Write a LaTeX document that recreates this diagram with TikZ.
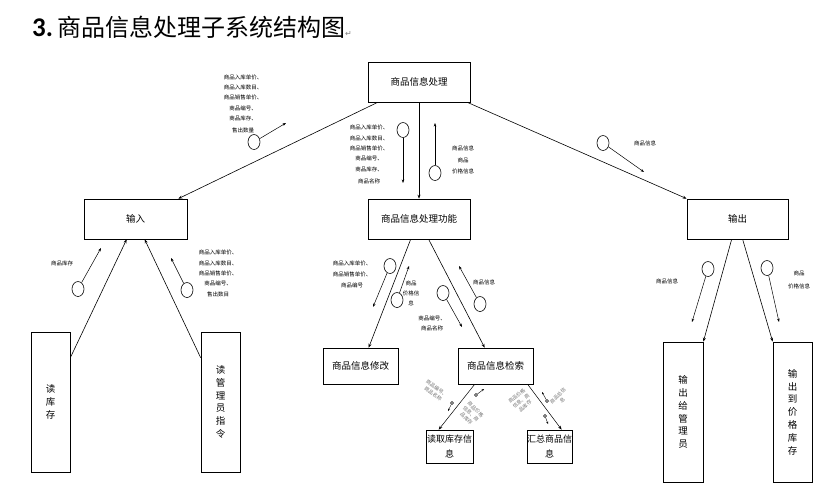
\documentclass[tikz,border=0pt]{standalone}
\usepackage{fontspec}
\setmainfont{Carlito}
\newfontfamily\cjk{Noto Sans CJK SC}
\newfontfamily\symf{DejaVu Sans}
\usetikzlibrary{arrows.meta,shapes.geometric,calc}
\begin{document}
\begin{tikzpicture}[x=1pt,y=-1pt,
  box/.style={draw, line width=0.7pt, inner sep=0pt, align=center, font=\cjk\fontsize{9.5}{12}\selectfont},
  vbox/.style={box, font=\cjk\fontsize{9.5}{12.8}\selectfont},
  sbox/.style={box, font=\cjk\fontsize{9}{15}\selectfont},
  lbl/.style={inner sep=0pt, align=center, font=\cjk\fontsize{5.5}{10.3}\selectfont},
  rlbl/.style={inner sep=0pt, align=center, text=black!55, font=\cjk\fontsize{5}{6.5}\selectfont},
  link/.style={line width=0.6pt, -{Stealth[length=4pt,width=3pt]}},
  flow/.style={line width=0.5pt, -{Stealth[length=3.5pt,width=2.6pt]}},
  bubble/.style={draw, ellipse, minimum width=12pt, minimum height=15pt, inner sep=0pt, line width=0.6pt},
  dot/.style={draw, circle, minimum size=3pt, inner sep=0pt, line width=0.5pt},
  tinyflow/.style={line width=0.4pt, -{Stealth[length=2.5pt,width=2pt]}}
]
\useasboundingbox (0,0) rectangle (832,498);

% title
\node[anchor=base west, inner sep=0pt] (title) at (32,36)
  {{\fontsize{27}{27}\selectfont\bfseries 3.}\hspace{4pt}{\cjk\fontsize{24}{24}\selectfont 商品信息处理子系统结构图}{\symf\fontsize{8}{8}\selectfont\textcolor{gray}{↵}}};

% boxes
\node[box, minimum width=102pt, minimum height=40pt] (top) at (419,82) {商品信息处理};
\node[box, minimum width=103pt, minimum height=40pt] (in) at (135.5,219) {输入};
\node[box, minimum width=102pt, minimum height=40pt] (func) at (419,219) {商品信息处理功能};
\node[box, minimum width=101pt, minimum height=40pt] (out) at (737.5,219) {输出};
\node[vbox, minimum width=39pt, minimum height=140pt] (rk) at (50.5,402) {读\\库\\存};
\node[vbox, minimum width=39pt, minimum height=140pt] (rg) at (220.5,402) {读\\管\\理\\员\\指\\令};
\node[box, minimum width=75pt, minimum height=36pt] (mod) at (360.5,366) {商品信息修改};
\node[box, minimum width=75pt, minimum height=36pt] (srch) at (495.5,366) {商品信息检索};
\node[sbox, minimum width=47pt, minimum height=33pt] (rd) at (449.5,446.5) {读取库存信\\息};
\node[sbox, minimum width=45pt, minimum height=33pt] (sum) at (549.5,446.5) {汇总商品信\\息};
\node[vbox, minimum width=40pt, minimum height=140pt] (og) at (683,412) {输\\出\\给\\管\\理\\员};
\node[vbox, minimum width=39pt, minimum height=140pt] (op) at (792.5,412) {输\\出\\到\\价\\格\\库\\存};

% connectors
\draw[link] ($(top.south west)+(10,0)$) -- ($(in.north east)+(-9,0)$);
\draw[link] (top.south) -- (func.north);
\draw[link] ($(top.south east)+(-3,0)$) -- (out.north west);
\draw[link] ($(rk.north east)+(0,26)$) -- ($(in.south west)+(43,0)$);
\draw[link] ($(rg.north west)+(0,26)$) -- ($(in.south west)+(61,0)$);
\draw[link] ($(func.south west)+(43,0)$) -- ($(mod.north west)+(46,0)$);
\draw[link] ($(func.south west)+(61,0)$) -- ($(srch.north west)+(27,0)$);
\draw[link] ($(out.south west)+(45,0)$) -- (og.north east);
\draw[link] ($(out.south west)+(56,0)$) -- (op.north west);
\draw[link, line width=0.5pt] ($(srch.south west)+(17,0)$) -- ($(rd.north west)+(13,0)$);
\draw[link, line width=0.5pt] ($(srch.south west)+(70,0)$) -- ($(sum.north west)+(35,0)$);

% data-flow bubbles
\node[bubble] (b1) at (254,142) {};  \coordinate (b1e) at (286,123); \draw[flow] (b1) -- (b1e);
\node[bubble] (b2) at (403,130) {};  \coordinate (b2e) at (403,183); \draw[flow] (b2) -- (b2e);
\node[bubble] (b3) at (435,173) {};  \coordinate (b3e) at (435,123); \draw[flow] (b3) -- (b3e);
\node[bubble] (b4) at (603,143) {};  \coordinate (b4e) at (644,172); \draw[flow] (b4) -- (b4e);
\node[bubble] (b5) at (78,289) {};   \coordinate (b5e) at (101,248); \draw[flow] (b5) -- (b5e);
\node[bubble] (b6) at (187,290) {};  \coordinate (b6e) at (171,258); \draw[flow] (b6) -- (b6e);
\node[bubble] (b7) at (390,266) {};  \coordinate (b7e) at (373,307); \draw[flow] (b7) -- (b7e);
\node[bubble] (b8) at (397,300) {};  \coordinate (b8e) at (409,266); \draw[flow] (b8) -- (b8e);
\node[bubble] (b9) at (443,293) {};  \coordinate (b9e) at (462,327); \draw[flow] (b9) -- (b9e);
\node[bubble] (b10) at (480,304) {}; \coordinate (b10e) at (459,266); \draw[flow] (b10) -- (b10e);
\node[bubble] (b11) at (708,269) {}; \coordinate (b11e) at (692,322); \draw[flow] (b11) -- (b11e);
\node[bubble] (b12) at (767,268) {}; \coordinate (b12e) at (779,322); \draw[flow] (b12) -- (b12e);

% tiny flows near retrieval
\node[dot] (d1) at (452,403) {}; \coordinate (d1e) at (448,411); \draw[tinyflow] (d1) -- (d1e);
\node[dot] (d2) at (476,395) {}; \coordinate (d2e) at (484,389); \draw[tinyflow] (d2) -- (d2e);
\node[dot] (d3) at (547,401) {}; \coordinate (d3e) at (542,392); \draw[tinyflow] (d3) -- (d3e);
\node[dot] (d4) at (545,416) {}; \coordinate (d4e) at (548,424); \draw[tinyflow] (d4) -- (d4e);

% labels
\node[lbl, anchor=north] (l1) at (243,74.5) {商品入库单价、\\商品入库数目、\\商品销售单价、\\商品编号、\\商品库存、\\[1.5pt]售出数量};
\node[lbl, anchor=north] (l2) at (369,125) {商品入库单价、\\商品入库数目、\\商品销售单价、\\商品编号、\\商品库存、\\[2.5pt]商品名称};
\node[lbl, anchor=north, font=\cjk\fontsize{5.5}{11.5}\selectfont] (l3) at (463,146) {商品信息\\商品\\价格信息};
\node[lbl] (l4) at (645,143) {商品信息};
\node[lbl] (l5) at (62,263) {商品库存};
\node[lbl, anchor=north] (l6) at (218,250) {商品入库单价、\\商品入库数目、\\商品销售单价、\\商品编号、\\售出数目};
\node[lbl, anchor=north, font=\cjk\fontsize{5.5}{11}\selectfont] (l7) at (352,261) {商品入库单价、\\商品销售单价、\\商品编号};
\node[lbl, anchor=north, font=\cjk\fontsize{5.5}{10}\selectfont] (l8) at (411,281) {商品\\价格信\\息};
\node[lbl, anchor=north, font=\cjk\fontsize{5.5}{10}\selectfont] (l9) at (432,316) {商品编号、\\商品名称};
\node[lbl] (l10) at (484,282) {商品信息};
\node[lbl] (l11) at (667,281) {商品信息};
\node[lbl, anchor=north, font=\cjk\fontsize{5.5}{13}\selectfont] (l12) at (799,271) {商品\\价格信息};

% rotated grey labels
\node[rlbl, rotate=-35] (r1) at (435,391) {商品编号、\\商品名称};
\node[rlbl, rotate=-45] (r2) at (471,414) {商品价格\\信息、商\\品库存};
\node[rlbl, rotate=40] (r3) at (521,401) {商品价格\\信息、商\\品库存};
\node[rlbl, rotate=45] (r4) at (560,398) {商品总信\\息};
\end{tikzpicture}
\end{document}
